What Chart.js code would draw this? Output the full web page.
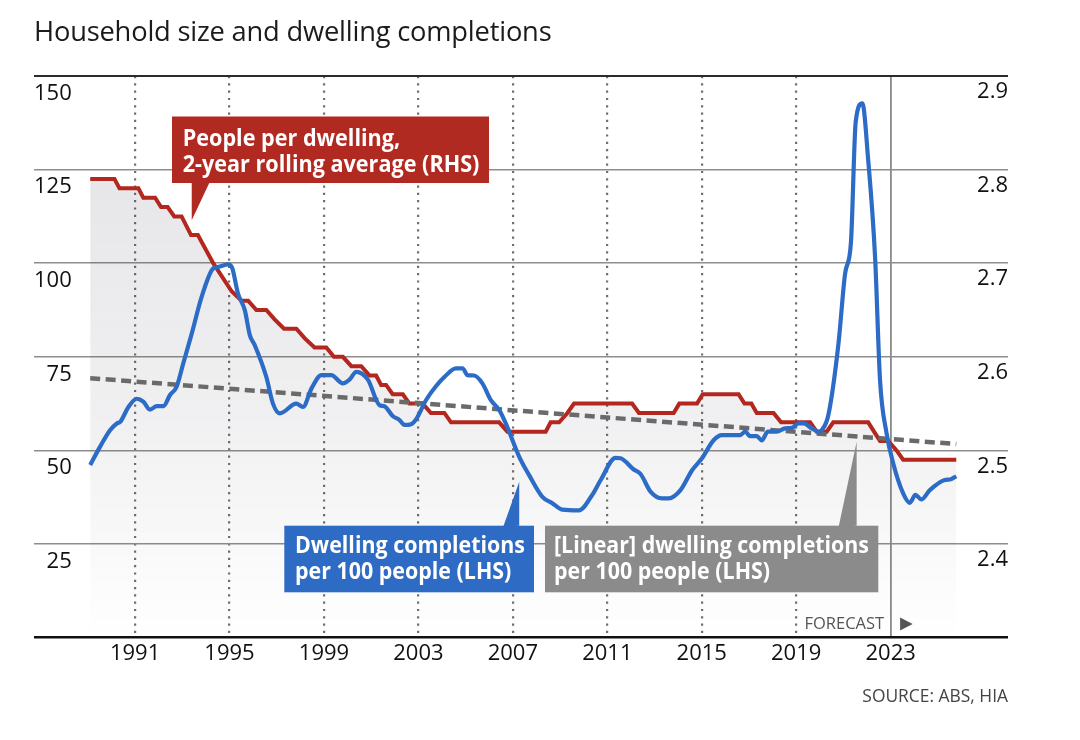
<!DOCTYPE html>
<html>
<head>
<meta charset="utf-8">
<script src="https://cdn.jsdelivr.net/npm/chart.js@4"></script>
<style>
  body { margin: 0; background: #fff; font-family: "Open Sans", sans-serif; }
  #wrap { position: relative; width: 1080px; height: 740px; }
  #chart { position: absolute; left: 0; top: 0; }
  #title { position: absolute; left: 34px; top: 15px; font-size: 27.3px; line-height: 32px; color: #1b1b1b; letter-spacing: -0.2px; }
  #source { position: absolute; right: 72px; top: 684px; font-size: 17.4px; line-height: 22px; color: #444; }
</style>
</head>
<body>
<div id="wrap">
  <canvas id="chart" width="1080" height="740"></canvas>
  <div id="title">Household size and dwelling completions</div>
  <div id="source">SOURCE: ABS, HIA</div>
</div>
<script>
// axis ticks
const tickYears = [1991, 1995, 1999, 2003, 2007, 2011, 2015, 2019, 2023];
const leftTicks = [0, 25, 50, 75, 100, 125, 150];
const rightTicks = [2.3, 2.4, 2.5, 2.6, 2.7, 2.8, 2.9];
const forecastStart = 2023;

// dwelling completions per 100 people (LHS)
const completionYears = [1989.10, 1989.52, 1989.94, 1990.23, 1990.37, 1990.72, 1991.07, 1991.35, 1991.63, 1991.92,
  1992.20, 1992.48, 1992.76, 1993.04, 1993.40, 1993.82, 1994.31, 1994.52, 1994.94, 1995.11,
  1995.36, 1995.65, 1995.86, 1996.07, 1996.56, 1996.84, 1997.13, 1997.83, 1998.11, 1998.47,
  1998.89, 1999.31, 1999.80, 2000.08, 2000.37, 2000.86, 2001.35, 2001.56, 2001.91, 2002.20,
  2002.41, 2002.69, 2002.90, 2003.32, 2003.75, 2004.10, 2004.59, 2004.87, 2005.08, 2005.36,
  2005.71, 2006.07, 2006.42, 2006.70, 2007.27, 2007.69, 2008.25, 2008.67, 2009.09, 2009.80,
  2010.36, 2010.72, 2011.35, 2011.56, 2012.12, 2012.41, 2012.83, 2013.32, 2013.60, 2014.10,
  2014.59, 2015.01, 2015.50, 2015.85, 2016.63, 2016.84, 2017.05, 2017.33, 2017.54, 2017.80,
  2018.18, 2018.53, 2018.81, 2019.09, 2019.31, 2019.66, 2019.94, 2020.08, 2020.36, 2020.79,
  2021.07, 2021.32, 2021.52, 2021.80, 2022.05, 2022.34, 2022.55, 2022.83, 2023.11, 2023.53,
  2023.81, 2024.05, 2024.30, 2024.66, 2025.29, 2025.55, 2025.78];
const completionValues = [46.1, 51.0, 55.4, 57.2, 57.6, 61.6, 63.8, 63.0, 60.9, 61.8,
  61.8, 64.8, 67.0, 73.2, 81.2, 91.0, 98.6, 99.0, 99.7, 98.8,
  91.9, 87.4, 80.8, 78.1, 69.6, 62.5, 59.9, 62.5, 61.6, 66.5,
  70.1, 70.1, 67.9, 68.9, 71.0, 68.9, 62.1, 61.8, 59.2, 58.1,
  56.8, 57.0, 58.3, 63.4, 67.2, 69.6, 71.9, 71.9, 70.1, 70.0,
  67.9, 63.4, 60.8, 57.2, 48.3, 43.4, 37.6, 35.9, 34.2, 34.0,
  38.1, 42.1, 48.0, 47.9, 44.9, 43.7, 39.0, 37.2, 37.2, 39.4,
  44.7, 47.9, 52.7, 54.1, 54.1, 55.0, 53.8, 53.8, 52.7, 55.0,
  55.0, 55.9, 56.0, 57.2, 57.2, 55.9, 55.0, 55.4, 59.4, 78.5,
  97.2, 105.7, 137.7, 142.7, 127.5, 101.7, 68.8, 54.5, 46.5, 38.5,
  36.0, 38.1, 36.9, 39.4, 42.1, 42.3, 43.1];

// people per dwelling, 2-year rolling average (RHS)
const householdYears = [1989.10, 1990.13, 1990.34, 1991.14, 1991.35, 1991.85, 1992.10, 1992.38, 1992.66, 1992.97,
  1993.37, 1993.66, 1994.31, 1995.09, 1995.51, 1995.79, 1996.14, 1996.56, 1996.91, 1997.31,
  1997.83, 1998.18, 1998.60, 1999.10, 1999.42, 1999.80, 2000.16, 2000.58, 2000.93, 2001.21,
  2001.42, 2001.63, 2001.91, 2002.34, 2002.62, 2003.18, 2003.53, 2004.10, 2004.38, 2006.42,
  2006.77, 2008.39, 2008.60, 2008.96, 2009.31, 2009.59, 2012.05, 2012.34, 2013.81, 2014.05,
  2014.80, 2015.04, 2016.56, 2016.81, 2017.10, 2017.33, 2018.04, 2018.36, 2019.59, 2019.87,
  2020.29, 2020.57, 2022.05, 2022.55, 2022.90, 2023.25, 2023.53, 2025.78];
const householdValues = [2.79, 2.79, 2.78, 2.78, 2.77, 2.77, 2.76, 2.76, 2.75, 2.75,
  2.73, 2.73, 2.70, 2.67, 2.66, 2.66, 2.65, 2.65, 2.64, 2.63,
  2.63, 2.62, 2.61, 2.61, 2.60, 2.60, 2.59, 2.59, 2.58, 2.58,
  2.57, 2.57, 2.56, 2.56, 2.55, 2.55, 2.54, 2.54, 2.53, 2.53,
  2.52, 2.52, 2.53, 2.53, 2.54, 2.55, 2.55, 2.54, 2.54, 2.55,
  2.55, 2.56, 2.56, 2.55, 2.55, 2.54, 2.54, 2.53, 2.53, 2.52,
  2.52, 2.53, 2.53, 2.51, 2.51, 2.50, 2.49, 2.49];

// [linear] trend of dwelling completions (LHS)
const trendYears = [1989.10, 2025.78];
const trendValues = [69.3, 51.7];

const toPoints = (xs, ys) => xs.map((x, i) => ({ x: x, y: ys[i] }));

function fadeFill(context) {
  const area = context.chart.chartArea;
  if (!area) return 'rgba(0,0,0,0)';
  const g = context.chart.ctx.createLinearGradient(0, area.top, 0, area.bottom);
  g.addColorStop(0, 'rgba(40,40,60,0.13)');
  g.addColorStop(0.6, 'rgba(40,40,60,0.07)');
  g.addColorStop(1, 'rgba(40,40,60,0.0)');
  return g;
}

const callouts = [
  { color: '#b12a22', left: 172, top: 116.5, width: 317, height: 66.5, textX: 182.7, base1: 146, fit: 296.7,
    lines: ['People per dwelling,', '2-year rolling average (RHS)'],
    tip: { axis: 'y1', x: 1993.4, y: 2.746 }, side: 'bottom', baseFrom: 0, baseTo: 18 },
  { color: '#2d6bc4', left: 284.3, top: 525.7, width: 249.7, height: 66.6, textX: 295, base1: 553.3, fit: 230,
    lines: ['Dwelling completions', 'per 100 people (LHS)'],
    tip: { axis: 'y', x: 2007.27, y: 41.6 }, side: 'top', baseFrom: -16, baseTo: 0 },
  { color: '#8b8b8b', left: 545, top: 525.7, width: 333.3, height: 66.6, textX: 554, base1: 553.3, fit: 315,
    lines: ['[Linear] dwelling completions', 'per 100 people (LHS)'],
    tip: { axis: 'y', x: 2021.56, y: 52.3 }, side: 'top', baseFrom: -18, baseTo: 0 }
];

const calloutPlugin = {
  id: 'callouts',
  afterDatasetsDraw(chart) {
    const ctx = chart.ctx;
    const xs = chart.scales.x;
    callouts.forEach(function (b) {
      const tx = xs.getPixelForValue(b.tip.x);
      const ty = chart.scales[b.tip.axis].getPixelForValue(b.tip.y);
      const edge = b.side === 'bottom' ? b.top + b.height : b.top;
      ctx.save();
      ctx.fillStyle = b.color;
      ctx.fillRect(b.left, b.top, b.width, b.height);
      ctx.beginPath();
      ctx.moveTo(tx + b.baseFrom, edge + (b.side === 'bottom' ? -1 : 1));
      ctx.lineTo(tx, ty);
      ctx.lineTo(tx + b.baseTo, edge + (b.side === 'bottom' ? -1 : 1));
      ctx.lineTo(tx + b.baseTo, edge);
      ctx.closePath();
      ctx.fill();
      ctx.fillStyle = '#fff';
      ctx.font = '700 23px "Open Sans"';
      ctx.textBaseline = 'alphabetic';
      const natural = Math.max.apply(null, b.lines.map(function (l) { return ctx.measureText(l).width; }));
      const sx = b.fit / natural;
      b.lines.forEach(function (l, i) {
        ctx.save();
        ctx.translate(b.textX, b.base1 + i * 25.5);
        ctx.scale(sx, 1);
        ctx.fillText(l, 0, 0);
        ctx.restore();
      });
      ctx.restore();
    });

    // forecast marker
    const fx = xs.getPixelForValue(forecastStart);
    const fy = chart.chartArea.bottom - 13.5;
    ctx.save();
    ctx.fillStyle = '#555';
    ctx.font = '16.5px "Open Sans"';
    ctx.textAlign = 'right';
    ctx.textBaseline = 'middle';
    ctx.fillText('FORECAST', fx - 6.5, fy);
    ctx.beginPath();
    ctx.moveTo(fx + 9.5, fy - 6.5);
    ctx.lineTo(fx + 22, fy);
    ctx.lineTo(fx + 9.5, fy + 6.5);
    ctx.closePath();
    ctx.fill();
    ctx.restore();
  }
};

const tickFont = { size: 22, family: '"Open Sans"' };

new Chart(document.getElementById('chart'), {
  type: 'line',
  data: {
    datasets: [
      {
        label: 'Dwelling completions per 100 people (LHS)',
        data: toPoints(completionYears, completionValues),
        yAxisID: 'y',
        borderColor: '#2d6cc6',
        borderWidth: 4.2,
        cubicInterpolationMode: 'monotone',
        pointRadius: 0,
        fill: false,
        order: 1
      },
      {
        label: '[Linear] dwelling completions per 100 people (LHS)',
        data: toPoints(trendYears, trendValues),
        yAxisID: 'y',
        borderColor: '#6a6a6a',
        borderWidth: 4.5,
        borderDash: [10, 5.5],
        pointRadius: 0,
        fill: false,
        order: 2
      },
      {
        label: 'People per dwelling, 2-year rolling average (RHS)',
        data: toPoints(householdYears, householdValues),
        yAxisID: 'y1',
        borderColor: '#b3271f',
        borderWidth: 4,
        tension: 0,
        pointRadius: 0,
        fill: 'origin',
        backgroundColor: fadeFill,
        order: 3
      }
    ]
  },
  options: {
    responsive: false,
    animation: false,
    layout: { padding: { left: 34, right: 72, top: 76, bottom: 71 } },
    plugins: {
      legend: { display: false },
      tooltip: { enabled: false },
      filler: { propagate: false }
    },
    scales: {
      x: {
        type: 'linear',
        min: 1986.72,
        max: 2027.97,
        afterBuildTicks: function (scale) {
          scale.ticks = tickYears.map(function (v) { return { value: v }; });
        },
        grid: {
          drawTicks: false,
          color: function (c) { return c.tick && c.tick.value === forecastStart ? '#8a8a8a' : '#6f6f6f'; },
          lineWidth: function (c) { return c.tick && c.tick.value === forecastStart ? 1.8 : 2.2; }
        },
        border: {
          display: false,
          dash: function (c) { return c.tick && c.tick.value === forecastStart ? [] : [2.2, 5.1]; }
        },
        ticks: {
          padding: 2.5,
          color: '#111',
          font: tickFont,
          autoSkip: false,
          maxRotation: 0,
          callback: function (v) { return String(v); }
        }
      },
      y: {
        position: 'left',
        min: 0,
        max: 150,
        afterBuildTicks: function (scale) {
          scale.ticks = leftTicks.map(function (v) { return { value: v }; });
        },
        grid: {
          drawTicks: false,
          color: function (c) {
            const v = c.tick ? c.tick.value : null;
            return v === 150 ? '#2b2b2b' : v === 0 ? '#111' : '#8d8d8d';
          },
          lineWidth: function (c) {
            const v = c.tick ? c.tick.value : null;
            return v === 150 ? 2 : v === 0 ? 2.5 : 1.5;
          }
        },
        border: { display: false },
        ticks: {
          mirror: true,
          crossAlign: 'far',
          padding: 0,
          labelOffset: 17.5,
          color: '#111',
          font: tickFont,
          callback: function (v) { return v === 0 ? '' : String(v); }
        }
      },
      y1: {
        position: 'right',
        min: 2.3,
        max: 2.9,
        afterBuildTicks: function (scale) {
          scale.ticks = rightTicks.map(function (v) { return { value: v }; });
        },
        grid: { display: false, drawTicks: false },
        border: { display: false },
        ticks: {
          mirror: true,
          padding: 0,
          labelOffset: 16,
          color: '#111',
          font: tickFont,
          callback: function (v) { return Math.abs(v - 2.3) < 1e-9 ? '' : v.toFixed(1); }
        }
      }
    }
  },
  plugins: [calloutPlugin]
});
</script>
</body>
</html>
